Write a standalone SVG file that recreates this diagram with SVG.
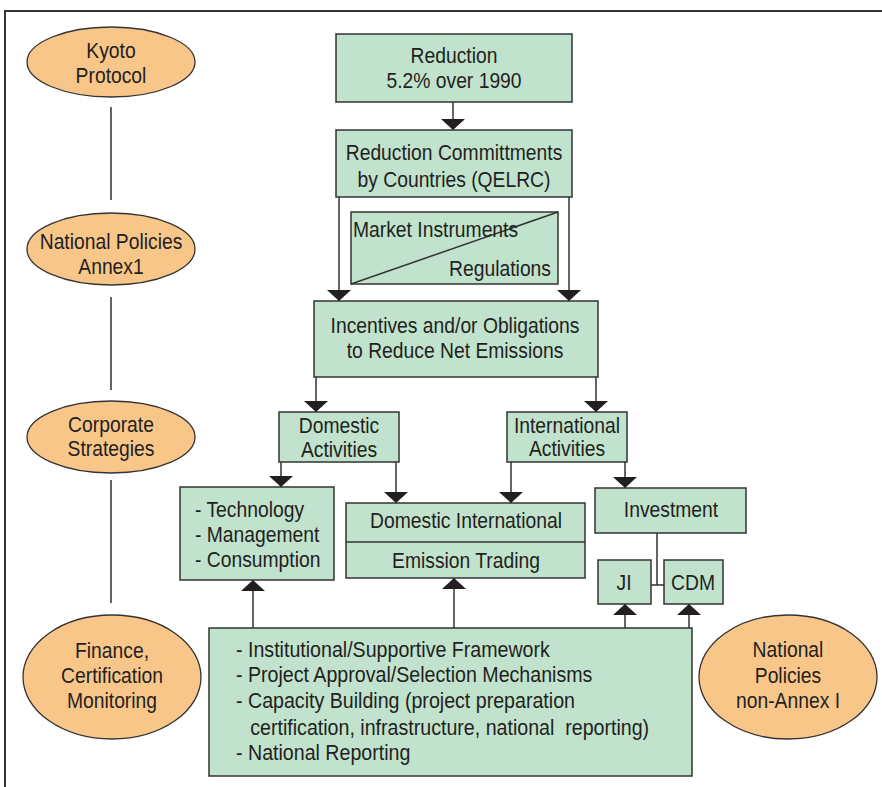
<svg xmlns="http://www.w3.org/2000/svg" width="882" height="787" viewBox="0 0 882 787">
<style>
.box{fill:#c1e2cc;stroke:#333;stroke-width:1.5}
.ell{fill:#f9c68a;stroke:#333;stroke-width:1.3}
.t{font-family:"Liberation Sans",Arial,sans-serif;font-size:22px;fill:#231f20}
.c{text-anchor:middle}
.e{text-anchor:end}
.ln{fill:none;stroke:#333;stroke-width:1.5}
.arr{fill:none;stroke:#333;stroke-width:1.5;marker-end:url(#ah)}
</style>
<defs>
<marker id="ah" viewBox="0 0 11 24" refX="11" refY="12" markerWidth="11" markerHeight="24" markerUnits="userSpaceOnUse" orient="auto">
<path d="M0,0 L11,12 L0,24 Z" fill="#231f20"/>
</marker>
</defs>
<rect width="882" height="787" fill="#fff"/>
<rect x="5" y="11" width="900" height="800" fill="none" stroke="#333" stroke-width="2"/>

<g id="connectors">
<path class="ln" d="M111,107 V200 M111,297 V390 M111,480 V603"/>
<path class="arr" d="M453,102 V130"/>
<path class="arr" d="M339,197 V301"/>
<path class="arr" d="M569,197 V301"/>
<path class="arr" d="M316,377 V412"/>
<path class="arr" d="M596,377 V412"/>
<path class="arr" d="M281,462 V487"/>
<path class="arr" d="M396,462 V503"/>
<path class="arr" d="M511,462 V503"/>
<path class="arr" d="M625,462 V488"/>
<path class="arr" d="M253,628 V580"/>
<path class="arr" d="M454,628 V578"/>
<path class="arr" d="M625,628 V604"/>
<path class="arr" d="M689,628 V604"/>
<path class="ln" d="M657,533 V585 M651,585 H664"/>
</g>

<g id="kyoto">
<ellipse class="ell" cx="111" cy="62" rx="84" ry="35"/>
<text class="t c" transform="translate(111,0) scale(0.877,1)"><tspan x="0" y="58">Kyoto</tspan><tspan x="0" y="83">Protocol</tspan></text>
</g>
<g id="national-annex1">
<ellipse class="ell" cx="111" cy="249" rx="84" ry="36"/>
<text class="t c" transform="translate(111,0) scale(0.877,1)"><tspan x="0" y="249">National Policies</tspan><tspan x="0" y="274">Annex1</tspan></text>
</g>
<g id="corporate">
<ellipse class="ell" cx="111" cy="437" rx="84" ry="36"/>
<text class="t c" transform="translate(111,0) scale(0.877,1)"><tspan x="0" y="432">Corporate</tspan><tspan x="0" y="456">Strategies</tspan></text>
</g>
<g id="finance">
<ellipse class="ell" cx="112" cy="677" rx="89" ry="62"/>
<text class="t c" transform="translate(112,0) scale(0.877,1)"><tspan x="0" y="658">Finance,</tspan><tspan x="0" y="683">Certification</tspan><tspan x="0" y="708">Monitoring</tspan></text>
</g>
<g id="national-nonannex">
<ellipse class="ell" cx="788" cy="677" rx="89" ry="62"/>
<text class="t c" transform="translate(788,0) scale(0.877,1)"><tspan x="0" y="657">National</tspan><tspan x="0" y="683">Policies</tspan><tspan x="0" y="708">non-Annex I</tspan></text>
</g>

<g id="reduction">
<rect class="box" x="336" y="34" width="236" height="68"/>
<text class="t c" transform="translate(454,0) scale(0.877,1)"><tspan x="0" y="63">Reduction</tspan><tspan x="0" y="88">5.2% over 1990</tspan></text>
</g>
<g id="qelrc">
<rect class="box" x="336" y="130" width="236" height="67"/>
<text class="t c" transform="translate(454,0) scale(0.877,1)"><tspan x="0" y="160">Reduction Committments</tspan><tspan x="0" y="187">by Countries (QELRC)</tspan></text>
</g>
<g id="market">
<rect class="box" x="351" y="212" width="207" height="72"/>
<path class="ln" d="M351,284 L558,212"/>
<text class="t" transform="translate(353,0) scale(0.877,1)" x="0" y="237">Market Instruments</text>
<text class="t e" transform="translate(551,0) scale(0.877,1)" x="0" y="276">Regulations</text>
</g>
<g id="incentives">
<rect class="box" x="314" y="301" width="284" height="76"/>
<text class="t c" transform="translate(455,0) scale(0.877,1)"><tspan x="0" y="333">Incentives and/or Obligations</tspan><tspan x="0" y="358">to Reduce Net Emissions</tspan></text>
</g>
<g id="domestic-activities">
<rect class="box" x="279" y="412" width="120" height="50"/>
<text class="t c" transform="translate(339,0) scale(0.877,1)"><tspan x="0" y="433">Domestic</tspan><tspan x="0" y="457">Activities</tspan></text>
</g>
<g id="international-activities">
<rect class="box" x="507" y="412" width="120" height="50"/>
<text class="t c" transform="translate(567,0) scale(0.877,1)"><tspan x="0" y="433">International</tspan><tspan x="0" y="456">Activities</tspan></text>
</g>
<g id="technology">
<rect class="box" x="180" y="487" width="154" height="93"/>
<text class="t" transform="translate(195,0) scale(0.877,1)"><tspan x="0" y="517">- Technology</tspan><tspan x="0" y="542">- Management</tspan><tspan x="0" y="567">- Consumption</tspan></text>
</g>
<g id="emission-trading">
<rect class="box" x="346" y="503" width="239" height="75"/>
<path class="ln" d="M346,542 H585"/>
<text class="t c" transform="translate(466,0) scale(0.877,1)"><tspan x="0" y="528">Domestic International</tspan><tspan x="0" y="568">Emission Trading</tspan></text>
</g>
<g id="investment">
<rect class="box" x="595" y="488" width="151" height="45"/>
<text class="t c" transform="translate(671,0) scale(0.877,1)" x="0" y="517">Investment</text>
</g>
<g id="ji">
<rect class="box" x="598" y="560" width="53" height="44"/>
<text class="t c" transform="translate(624,0) scale(0.877,1)" x="0" y="590">JI</text>
</g>
<g id="cdm">
<rect class="box" x="664" y="560" width="59" height="44"/>
<text class="t c" transform="translate(693,0) scale(0.877,1)" x="0" y="590">CDM</text>
</g>
<g id="framework">
<rect class="box" x="209" y="628" width="483" height="148"/>
<text class="t" transform="translate(236,0) scale(0.892,1)" xml:space="preserve"><tspan x="0" y="657">- Institutional/Supportive Framework</tspan><tspan x="0" y="682">- Project Approval/Selection Mechanisms</tspan><tspan x="0" y="708">- Capacity Building (project preparation</tspan><tspan x="16" y="735">certification, infrastructure, national  reporting)</tspan><tspan x="0" y="760">- National Reporting</tspan></text>
</g>
</svg>
